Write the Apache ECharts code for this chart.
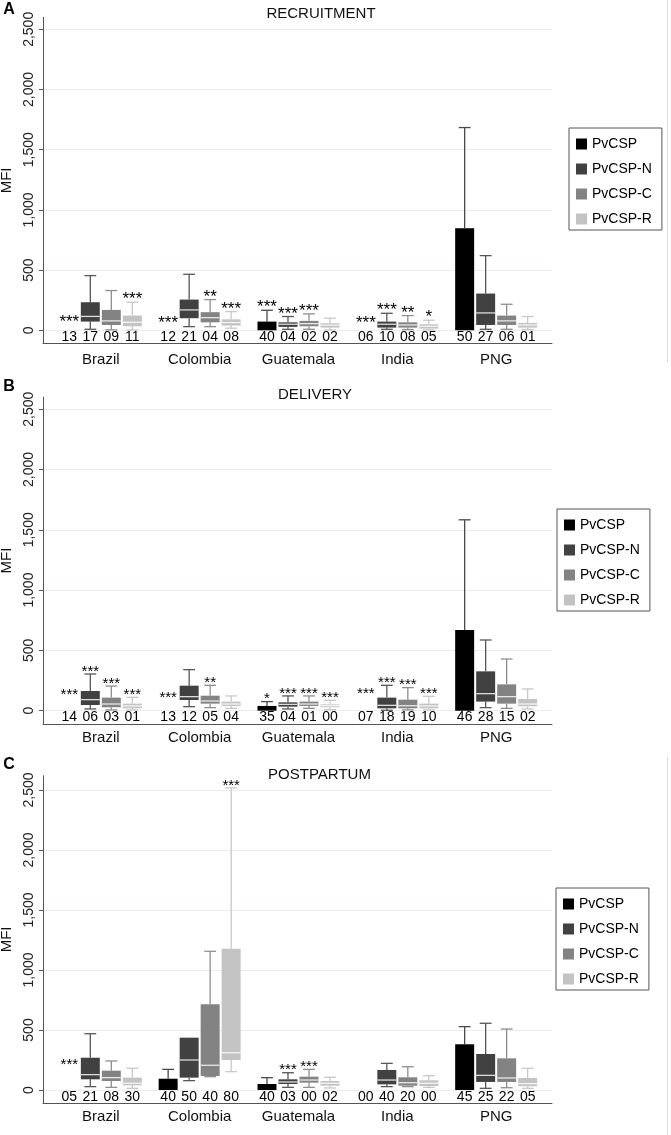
<!DOCTYPE html>
<html><head><meta charset="utf-8">
<script src="https://cdn.jsdelivr.net/npm/echarts@6/dist/echarts.min.js"></script>
<style>html,body{margin:0;padding:0;background:#fff}#c{width:671px;height:1135px}</style>
</head><body><div id="c"></div>
<script>
// ---------------- DATA ----------------
const countries = ['Brazil', 'Colombia', 'Guatemala', 'India', 'PNG'];
const antigens = ['PvCSP', 'PvCSP-N', 'PvCSP-C', 'PvCSP-R'];
const panelTitles = ['RECRUITMENT', 'DELIVERY', 'POSTPARTUM'];
const panelLetters = ['A', 'B', 'C'];
const yTickValues = [0, 500, 1000, 1500, 2000, 2500];

// box stats per country: [lower whisker, Q1, median, Q3, upper whisker]; null = no box
const recruitP = [null, null, [0, 0, 0, 72, 166], null, [0, 0, 0, 848, 1684]];
const recruitN = [[8, 72, 115, 233, 454], [30, 100, 169, 255, 465], [8, 28, 50, 66, 114], [8, 22, 50, 72, 141], [8, 44, 144, 305, 620]];
const recruitC = [[3, 44, 78, 169, 330], [30, 66, 105, 150, 255], [8, 33, 55, 78, 136], [6, 22, 44, 66, 122], [8, 44, 78, 122, 216]];
const recruitR = [[3, 33, 66, 122, 233], [17, 39, 64, 91, 155], [3, 22, 42, 58, 100], [3, 14, 33, 50, 83], [6, 22, 44, 61, 114]];

const deliveryP = [null, null, [0, 0, 0, 39, 75], null, [0, 0, 0, 668, 1583]];
const deliveryN = [[14, 47, 91, 163, 304], [33, 88, 116, 207, 340], [14, 33, 52, 69, 122], [3, 19, 44, 108, 210], [25, 75, 141, 326, 586]];
const deliveryC = [[6, 28, 55, 108, 204], [25, 58, 80, 124, 210], [19, 39, 55, 75, 122], [6, 19, 41, 91, 191], [19, 58, 116, 218, 428]];
const deliveryR = [[6, 19, 39, 58, 110], [19, 39, 55, 75, 122], [8, 28, 41, 52, 86], [6, 19, 39, 58, 119], [14, 36, 55, 97, 180]];

const postP = [null, [0, 0, 0, 94, 172], [0, 0, 0, 50, 103], null, [0, 0, 0, 381, 528]];
const postN = [[28, 89, 128, 269, 469], [78, 103, 250, 436, 436], [22, 50, 67, 89, 144], [28, 47, 83, 167, 222], [14, 67, 122, 300, 556]];
const postC = [[22, 75, 103, 161, 242], [111, 117, 206, 714, 1156], [22, 61, 83, 111, 172], [28, 36, 61, 106, 194], [19, 67, 100, 264, 508]];
const postR = [[14, 39, 56, 103, 181], [153, 250, 311, 1178, 2517], [17, 36, 56, 75, 106], [22, 33, 56, 81, 119], [14, 31, 53, 100, 181]];

// numbers printed under each box
const recruitCounts = [['13', '12', '40', '06', '50'], ['17', '21', '04', '10', '27'], ['09', '04', '02', '08', '06'], ['11', '08', '02', '05', '01']];
const deliveryCounts = [['14', '13', '35', '07', '46'], ['06', '12', '04', '18', '28'], ['03', '05', '01', '19', '15'], ['01', '04', '00', '10', '02']];
const postCounts = [['05', '40', '40', '00', '45'], ['21', '50', '03', '40', '25'], ['08', '40', '00', '20', '22'], ['30', '80', '02', '00', '05']];

// significance marks
const recruitStars = [['***', '***', '***', '***', ''], ['', '', '***', '***', ''], ['', '**', '***', '**', ''], ['***', '***', '', '*', '']];
const deliveryStars = [['***', '***', '*', '***', ''], ['***', '', '***', '***', ''], ['***', '**', '***', '***', ''], ['***', '', '***', '***', '']];
const postStars = [['***', '', '', '', ''], ['', '', '***', '', ''], ['', '', '***', '', ''], ['', '***', '', '', '']];

// MFI level of the marks where the PvCSP box is absent
const recruitStarLevel = [105, 100, null, 100, null];
const deliveryStarLevel = [166, 144, null, 171, null];
const postStarLevel = [247, null, null, null, null];

// ---------------- BUILD ----------------
const panels = [
  { stats: [recruitP, recruitN, recruitC, recruitR], counts: recruitCounts, stars: recruitStars, starLevel: recruitStarLevel },
  { stats: [deliveryP, deliveryN, deliveryC, deliveryR], counts: deliveryCounts, stars: deliveryStars, starLevel: deliveryStarLevel },
  { stats: [postP, postN, postC, postR], counts: postCounts, stars: postStars, starLevel: postStarLevel }
];

const FONT = '"Liberation Sans", Arial, Helvetica, sans-serif';
const FILL = ['#000000', '#414141', '#838383', '#c3c3c3'];
const WHISK = ['#4a4a4a', '#575757', '#8e8e8e', '#c8c8c8'];
const MED = ['#d8d8d8', '#dcdcdc', '#e8e8e8', '#f4f4f4'];
const SLOT = 0.2125, BOXW = 0.192, CAPW = 0.12;
const starFont = [17, 15, 15];

function seg(x1, y1, x2, y2, stroke) {
  return { type: 'line', shape: { x1, y1, x2, y2 }, style: { stroke, lineWidth: 1.3 } };
}

function makeRender(pi, k) {
  const P = panels[pi];
  return function (params, api) {
    const i = api.value(0);
    const base = api.coord([i, 0]);
    const unit = api.size([1, 0])[0];
    const cx = base[0] + (k - 1.5) * SLOT * unit;
    const bw = BOXW * unit, cw = CAPW * unit;
    const st = P.stats[k][i];
    const ch = [];
    let topY = null;
    if (st) {
      const py = st.map(v => api.coord([i, v])[1]);
      topY = py[4];
      if (st[4] > st[3]) {
        ch.push(seg(cx, py[3], cx, py[4], WHISK[k]));
        ch.push(seg(cx - cw / 2, py[4], cx + cw / 2, py[4], WHISK[k]));
      }
      if (st[0] < st[1]) {
        ch.push(seg(cx, py[1], cx, py[0], WHISK[k]));
        ch.push(seg(cx - cw / 2, py[0], cx + cw / 2, py[0], WHISK[k]));
      }
      ch.push({ type: 'rect', shape: { x: cx - bw / 2, y: py[3], width: bw, height: py[1] - py[3] }, style: { fill: FILL[k] } });
      if (st[2] > st[1]) ch.push(seg(cx - bw / 2, py[2], cx + bw / 2, py[2], MED[k]));
    }
    const star = P.stars[k][i];
    if (star) {
      const fs = starFont[pi];
      const sy = topY != null ? topY - 2.5 : api.coord([i, P.starLevel[i]])[1] + 0.28 * fs;
      ch.push({ type: 'text', style: { text: star, x: cx, y: sy, align: 'center', verticalAlign: 'middle', font: fs + 'px ' + FONT, fill: '#000' } });
    }
    ch.push({ type: 'text', style: { text: P.counts[k][i], x: cx, y: base[1] + 7, align: 'center', verticalAlign: 'middle', font: '14px ' + FONT, fill: '#000' } });
    return { type: 'group', children: ch };
  };
}

const gridTops = [17.3, 397.2, 775.6];
const gridHeights = [326.2, 326.7, 327.6];
const yMax = [2600, 2600, 2620];
const legendPos = [[569, 128], [557, 509], [556, 888]];
const catMargin = [9, 6, 6];

const grids = [], xAxes = [], yAxes = [], series = [], legends = [];
for (let p = 0; p < 3; p++) {
  grids.push({ left: 43, right: 119, top: gridTops[p], height: gridHeights[p], outerBoundsMode: 'none' });
  xAxes.push({
    type: 'value', gridIndex: p, min: -0.585, max: 4.565,
    axisLine: { onZero: false, lineStyle: { color: '#555', width: 1 } },
    axisTick: { show: false }, splitLine: { show: false },
    axisLabel: { customValues: [0, 1, 2, 3, 4], formatter: v => countries[Math.round(v)], fontSize: 15, fontFamily: FONT, color: '#111', margin: catMargin[p] }
  });
  yAxes.push({
    type: 'value', gridIndex: p, min: -110, max: yMax[p],
    axisLine: { show: true, onZero: false, lineStyle: { color: '#555', width: 1 } },
    axisTick: { show: true, length: 4, customValues: yTickValues, lineStyle: { color: '#555' } },
    axisLabel: { customValues: yTickValues, rotate: 90, formatter: v => Number(v).toLocaleString('en-US'), fontSize: 14, fontFamily: FONT, color: '#222', margin: 7 },
    splitLine: { show: true, lineStyle: { color: '#e5eef0', width: 1 } },
    name: 'MFI', nameLocation: 'middle', nameGap: 26,
    nameTextStyle: { fontSize: 15, fontFamily: FONT, color: '#111' }
  });
  for (let k = 0; k < 4; k++) {
    series.push({
      type: 'custom', name: antigens[k], xAxisIndex: p, yAxisIndex: p,
      itemStyle: { color: FILL[k] }, silent: true, animation: false,
      data: countries.map((c, i) => [i]),
      encode: { x: 0 },
      renderItem: makeRender(p, k)
    });
  }
  legends.push({
    orient: 'vertical', left: legendPos[p][0], top: legendPos[p][1],
    data: antigens, icon: 'rect', itemWidth: 11, itemHeight: 11, itemGap: 11,
    borderColor: '#555', borderWidth: 1, padding: [9, 10, 4, 7], selectedMode: false,
    textStyle: { fontSize: 14, fontFamily: FONT, color: '#000', lineHeight: 14 }
  });
}

const titleX = [321, 315, 319.5], titleY = [14, 395, 775];
const letterY = [10, 387, 765];
const graphics = [];
for (let p = 0; p < 3; p++) {
  graphics.push({ type: 'text', x: titleX[p], y: titleY[p], style: { text: panelTitles[p], align: 'center', verticalAlign: 'middle', font: '15px ' + FONT, fill: '#111' } });
  graphics.push({ type: 'text', x: 9, y: letterY[p], style: { text: panelLetters[p], align: 'center', verticalAlign: 'middle', font: 'bold 16px ' + FONT, fill: '#000' } });
}
graphics.push({ type: 'line', shape: { x1: 667.5, y1: 0, x2: 667.5, y2: 362 }, style: { stroke: '#dddddd', lineWidth: 1 } });
graphics.push({ type: 'line', shape: { x1: 667.5, y1: 757, x2: 667.5, y2: 1135 }, style: { stroke: '#dddddd', lineWidth: 1 } });

const chart = echarts.init(document.getElementById('c'), null, { renderer: 'canvas' });
chart.setOption({
  backgroundColor: '#ffffff',
  animation: false,
  grid: grids, xAxis: xAxes, yAxis: yAxes, series: series, legend: legends,
  graphic: graphics
});
</script>
</body></html>
